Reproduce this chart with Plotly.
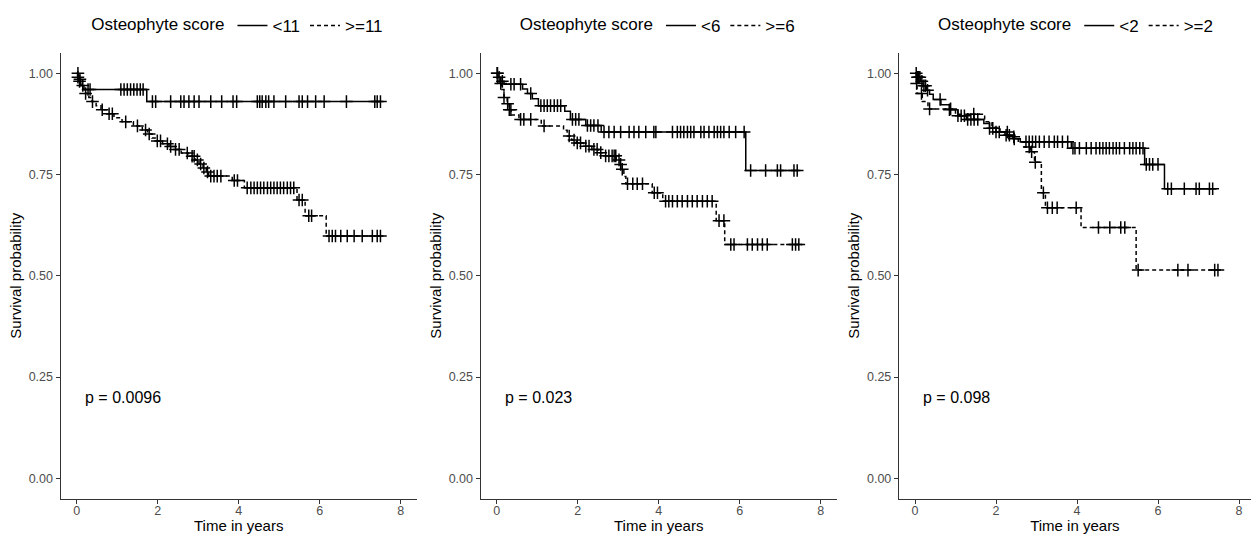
import numpy as np
import plotly.graph_objects as go

# ---------------- data ----------------
# Panel 1: cut-off 11
p1_low_t = [0.04, 0.10, 0.18, 1.73]
p1_low_s = [0.985, 0.970, 0.960, 0.930]
p1_low_end = 7.52
p1_low_cens = [0.03, 0.08, 0.28, 0.33, 1.09, 1.17, 1.25, 1.33, 1.41, 1.49, 1.57, 1.64,
               1.87, 1.95, 2.32, 2.57, 2.65, 2.77, 2.90, 3.02, 3.31, 3.58, 3.86, 3.95,
               4.46, 4.52, 4.58, 4.67, 4.74, 4.87, 5.16, 5.49, 5.57, 5.70, 5.90, 6.11,
               6.66, 7.36, 7.42, 7.50]

p1_high_t = [0.02, 0.06, 0.10, 0.16, 0.22, 0.30, 0.37, 0.48, 0.60, 0.75, 0.92, 1.12,
             1.40, 1.62, 1.75, 1.86, 1.97, 2.12, 2.28, 2.42, 2.58, 2.76, 2.92, 3.02,
             3.12, 3.20, 3.26, 3.84, 4.14, 5.44, 5.64, 6.16]
p1_high_s = [0.99, 0.98, 0.97, 0.96, 0.95, 0.94, 0.93, 0.92, 0.91, 0.90, 0.89, 0.88,
             0.87, 0.86, 0.85, 0.84, 0.833, 0.826, 0.819, 0.812, 0.803, 0.795, 0.786, 0.776,
             0.766, 0.756, 0.746, 0.735, 0.717, 0.687, 0.648, 0.598]
p1_high_end = 7.55
p1_high_cens = [0.03, 0.07, 0.15, 0.22, 0.39, 0.63, 0.80, 0.88, 1.21, 1.50, 1.70, 1.79,
                1.99, 2.07, 2.24, 2.32, 2.44, 2.53, 2.73, 2.85, 2.90, 2.98, 3.06, 3.14,
                3.23, 3.31, 3.39, 3.47, 3.56, 3.89, 3.97, 4.21, 4.30, 4.38, 4.46, 4.54,
                4.62, 4.71, 4.79, 4.87, 4.95, 5.03, 5.11, 5.20, 5.28, 5.36, 5.49, 5.57,
                5.73, 5.80, 6.23, 6.31, 6.39, 6.52, 6.68, 6.85, 7.05, 7.30, 7.42, 7.50]

# Panel 2: cut-off 6
p2_low_t = [0.03, 0.10, 0.18, 0.64, 0.76, 0.88, 1.03, 1.68, 1.82, 2.20, 2.58, 6.15]
p2_low_s = [0.99, 0.98, 0.973, 0.961, 0.950, 0.937, 0.920, 0.906, 0.886, 0.871, 0.855, 0.760]
p2_low_end = 7.45
p2_low_cens = [0.02, 0.06, 0.14, 0.35, 0.43, 0.59, 0.84, 1.09, 1.17, 1.25, 1.33, 1.42,
               1.50, 1.58, 1.87, 1.95, 2.03, 2.24, 2.32, 2.40, 2.50, 2.65, 2.77, 2.90,
               3.06, 3.27, 3.39, 3.51, 3.68, 3.88, 3.93, 4.34, 4.46, 4.54, 4.62, 4.71,
               4.79, 4.87, 5.04, 5.12, 5.24, 5.37, 5.45, 5.53, 5.61, 5.74, 5.90, 6.11,
               6.27, 6.64, 6.93, 7.01, 7.34, 7.42]

p2_high_t = [0.02, 0.12, 0.18, 0.26, 0.31, 0.36, 0.55, 1.10, 1.65, 1.74, 1.85, 1.97,
             2.15, 2.35, 2.50, 2.65, 2.95, 3.05, 3.10, 3.14, 3.19, 3.84, 4.10, 5.42, 5.63]
p2_high_s = [0.975, 0.96, 0.94, 0.925, 0.91, 0.897, 0.886, 0.87, 0.859, 0.845, 0.835, 0.828,
             0.82, 0.812, 0.804, 0.796, 0.786, 0.775, 0.763, 0.745, 0.727, 0.705, 0.684, 0.636, 0.577]
p2_high_end = 7.55
p2_high_cens = [0.01, 0.10, 0.18, 0.27, 0.31, 0.35, 0.59, 0.67, 0.84, 1.17, 1.79, 1.91,
                1.99, 2.07, 2.20, 2.28, 2.40, 2.48, 2.57, 2.69, 2.77, 2.85, 2.90, 2.94,
                3.02, 3.06, 3.10, 3.23, 3.36, 3.47, 3.60, 3.89, 3.97, 4.17, 4.25, 4.34,
                4.46, 4.58, 4.71, 4.83, 4.95, 5.08, 5.20, 5.32, 5.49, 5.61, 5.78, 5.86,
                6.19, 6.31, 6.44, 6.56, 6.68, 7.30, 7.38, 7.46]

# Panel 3: cut-off 2
p3_low_t = [0.06, 0.14, 0.20, 0.28, 0.36, 0.45, 0.64, 0.85, 1.06, 1.27, 1.70, 1.84,
            2.00, 2.22, 2.42, 2.60, 3.86, 5.67, 6.16]
p3_low_s = [0.99, 0.98, 0.969, 0.958, 0.948, 0.935, 0.922, 0.91, 0.895, 0.886, 0.876, 0.864,
            0.855, 0.847, 0.838, 0.831, 0.815, 0.775, 0.715]
p3_low_end = 7.45
p3_low_cens = [0.03, 0.06, 0.09, 0.12, 0.17, 0.22, 0.26, 0.31, 0.62, 0.85, 1.06, 1.14,
               1.22, 1.30, 1.38, 1.46, 1.55, 1.84, 1.92, 2.00, 2.08, 2.25, 2.33, 2.45,
               2.74, 2.82, 2.90, 2.98, 3.07, 3.19, 3.31, 3.44, 3.52, 3.64, 3.77, 3.90,
               3.95, 4.06, 4.23, 4.35, 4.47, 4.56, 4.64, 4.72, 4.80, 4.89, 4.97, 5.05,
               5.17, 5.30, 5.38, 5.46, 5.55, 5.63, 5.71, 5.79, 5.87, 6.00, 6.24, 6.33,
               6.65, 6.94, 7.02, 7.27, 7.35]

p3_high_t = [0.03, 0.05, 0.18, 0.32, 1.00, 1.72, 1.90, 2.10, 2.30, 2.55, 2.70, 2.85,
             2.95, 3.12, 3.22, 4.10, 5.46]
p3_high_s = [0.975, 0.95, 0.93, 0.912, 0.899, 0.88, 0.866, 0.855, 0.843, 0.83, 0.818, 0.806,
             0.78, 0.705, 0.668, 0.619, 0.514]
p3_high_end = 7.55
p3_high_cens = [0.04, 0.16, 0.36, 0.88, 1.45, 2.28, 2.44, 2.82, 2.88, 2.97, 3.17, 3.27,
                3.39, 3.51, 3.98, 4.53, 4.81, 5.08, 5.18, 5.51, 6.49, 6.74, 7.40, 7.48]

cutoffs = ["11", "6", "2"]
p_values = ["p = 0.0096", "p = 0.023", "p = 0.098"]
y_ticks = [0, 0.25, 0.5, 0.75, 1.0]
x_ticks = [0, 2, 4, 6, 8]

panels = [
    ((p1_low_t, p1_low_s, p1_low_end, p1_low_cens), (p1_high_t, p1_high_s, p1_high_end, p1_high_cens)),
    ((p2_low_t, p2_low_s, p2_low_end, p2_low_cens), (p2_high_t, p2_high_s, p2_high_end, p2_high_cens)),
    ((p3_low_t, p3_low_s, p3_low_end, p3_low_cens), (p3_high_t, p3_high_s, p3_high_end, p3_high_cens)),
]

# ---------------- layout geometry ----------------
W, H = 1251, 534
FONT = "Liberation Sans, Arial, sans-serif"
px_per_year = 40.5
t0_px = [76.7, 496.7, 915.0]
y_bottom_px, y_top_px = 498.5, 53.0
BLACK = "black"
GREY = "#4d4d4d"
AXIS = "#333333"
DASH = "4px,3px"

fig = go.Figure()


def km_curve(t, s, end):
    xs = np.concatenate([[0.0], np.asarray(t, float), [end]])
    ys = np.concatenate([[1.0], np.asarray(s, float), [s[-1]]])
    return xs, ys


def censor_y(t, s, cens):
    tt = np.concatenate([[0.0], np.asarray(t, float)])
    ss = np.concatenate([[1.0], np.asarray(s, float)])
    idx = np.searchsorted(tt, np.asarray(cens, float), side="right") - 1
    return ss[idx]


for i, (low, high) in enumerate(panels):
    ax = "" if i == 0 else str(i + 1)
    xref, yref = "x" + ax, "y" + ax
    leg = "legend" + ax
    for j, (t, s, end, cens) in enumerate([low, high]):
        xs, ys = km_curve(t, s, end)
        name = ("<" if j == 0 else ">=") + cutoffs[i]
        dash = "solid" if j == 0 else DASH
        fig.add_trace(go.Scatter(
            x=xs, y=ys, mode="lines", line=dict(color=BLACK, width=1.5, dash=dash, shape="hv"),
            name=name, xaxis=xref, yaxis=yref, legend=leg, showlegend=True, hoverinfo="skip"))
        fig.add_trace(go.Scatter(
            x=cens, y=censor_y(t, s, cens), mode="markers",
            marker=dict(symbol="cross-thin", size=9, line=dict(color=BLACK, width=1.5)),
            xaxis=xref, yaxis=yref, showlegend=False, hoverinfo="skip"))

    left_px = t0_px[i] - 0.4 * px_per_year
    right_px = min(t0_px[i] + 8.4 * px_per_year, W)
    xmax = (right_px - t0_px[i]) / px_per_year
    xa = dict(domain=[left_px / W, right_px / W], range=[-0.4, xmax],
              tickvals=x_ticks, ticktext=[str(v) for v in x_ticks],
              showline=True, linecolor=AXIS, linewidth=1,
              ticks="outside", ticklen=4, tickcolor=AXIS, tickwidth=1,
              tickfont=dict(family=FONT, size=12.5, color=GREY), ticklabelstandoff=-4,
              showgrid=False, zeroline=False, automargin=False,
              title=dict(text="Time in years", font=dict(family=FONT, size=15, color=BLACK), standoff=6),
              anchor=yref)
    ya = dict(domain=[(H - y_bottom_px) / H, (H - y_top_px) / H], range=[-0.05, 1.05],
              tickvals=y_ticks, ticktext=["%.2f" % v for v in y_ticks],
              showline=True, linecolor=AXIS, linewidth=1,
              ticks="outside", ticklen=4, tickcolor=AXIS, tickwidth=1,
              tickfont=dict(family=FONT, size=12.5, color=GREY),
              showgrid=False, zeroline=False, automargin=False,
              title=dict(text="Survival probability", font=dict(family=FONT, size=15, color=BLACK), standoff=3),
              anchor=xref)
    fig.layout["xaxis" + ax] = xa
    fig.layout["yaxis" + ax] = ya

    center = (left_px + t0_px[i] + 8.4 * px_per_year) / 2 / W
    fig.layout[leg] = dict(
        x=center, y=(H - 26) / H, xanchor="center", yanchor="middle", orientation="h",
        title=dict(text="Osteophyte score", side="left", font=dict(family=FONT, size=17, color=BLACK)),
        font=dict(family=FONT, size=17, color=BLACK), bgcolor="rgba(0,0,0,0)",
        itemwidth=30, tracegroupgap=0)

    fig.add_annotation(x=0.15, y=0.2, xref=xref, yref=yref, text=p_values[i], showarrow=False,
                       xanchor="left", yanchor="middle", font=dict(family=FONT, size=16, color=BLACK))

fig.update_layout(width=W, height=H, margin=dict(l=0, r=0, t=0, b=0),
                  paper_bgcolor="white", plot_bgcolor="white", showlegend=True)

fig.write_html("out.html", config={"displayModeBar": False},
               post_script="document.body.style.margin='0';document.body.style.overflow='hidden';")
